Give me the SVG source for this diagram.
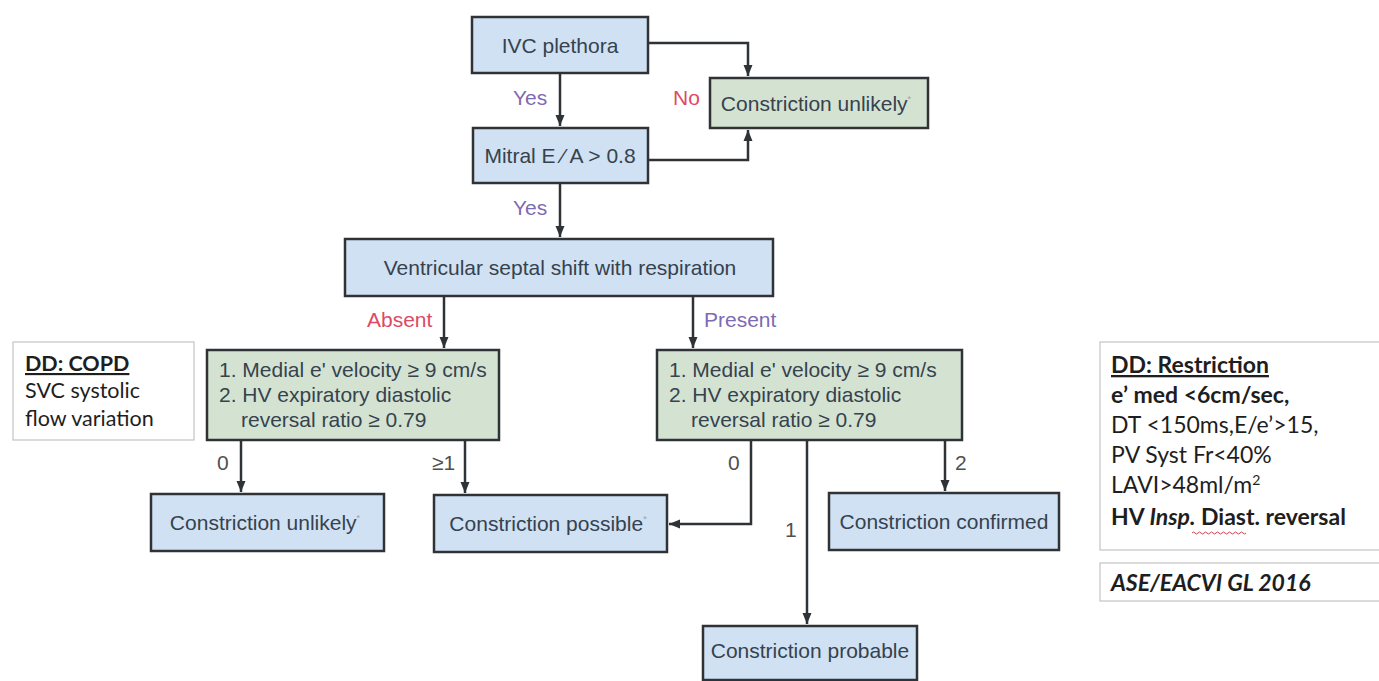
<svg xmlns="http://www.w3.org/2000/svg" width="1379" height="681" viewBox="0 0 1379 681">
<style>
.blue{fill:#cfe1f3;stroke:#2f3336;stroke-width:2.5}
.green{fill:#d4e2d2;stroke:#2f3336;stroke-width:2.5}
.note{fill:#ffffff;stroke:#c4c4c4;stroke-width:1.2}
.t{font-family:"Liberation Sans",Arial,sans-serif;font-size:21px;fill:#36424e}
.tm{text-anchor:middle}
.ast{font-size:9px;fill:#a0a0a0}
.yes{font-family:"Liberation Sans",Arial,sans-serif;font-size:21px;fill:#7d6bb3}
.no{font-family:"Liberation Sans",Arial,sans-serif;font-size:21px;fill:#dd4a66}
.num{font-family:"Liberation Sans",Arial,sans-serif;font-size:21px;fill:#505050}
.c{font-family:Lato,"Open Sans",sans-serif;font-size:23px;fill:#1e1e1e}
.cs{font-family:Lato,"Open Sans",sans-serif;font-size:21.5px;fill:#1e1e1e}
.b{font-weight:bold}
.conn{fill:none;stroke:#2f3336;stroke-width:2.5}
</style>
<defs>
<marker id="ah" markerUnits="userSpaceOnUse" markerWidth="12" markerHeight="12" viewBox="0 0 12 12" refX="11" refY="6" orient="auto">
<path d="M0,1.5 L11,6 L0,10.5 Z" fill="#2f3336"/>
</marker>
</defs>
<rect width="1379" height="681" fill="#ffffff"/>

<g id="connectors">
<path class="conn" d="M560,73 V126" marker-end="url(#ah)"/>
<path class="conn" d="M648,43 H748 V76" marker-end="url(#ah)"/>
<path class="conn" d="M648,160 H748 V130" marker-end="url(#ah)"/>
<path class="conn" d="M560,183 V237" marker-end="url(#ah)"/>
<path class="conn" d="M444,296 V348" marker-end="url(#ah)"/>
<path class="conn" d="M693,296 V348" marker-end="url(#ah)"/>
<path class="conn" d="M241,440 V492" marker-end="url(#ah)"/>
<path class="conn" d="M465,440 V493" marker-end="url(#ah)"/>
<path class="conn" d="M751,440 V524 H669" marker-end="url(#ah)"/>
<path class="conn" d="M807,440 V624" marker-end="url(#ah)"/>
<path class="conn" d="M945,440 V491" marker-end="url(#ah)"/>
<text class="yes" x="513" y="105">Yes</text>
<text class="no" x="673" y="105">No</text>
<text class="yes" x="513" y="215">Yes</text>
<text class="no" x="367" y="327">Absent</text>
<text class="yes" x="704" y="327">Present</text>
<text class="num" x="217" y="470">0</text>
<text class="num" x="432" y="470">≥1</text>
<text class="num" x="728" y="470">0</text>
<text class="num" x="785" y="537">1</text>
<text class="num" x="955" y="470">2</text>
</g>

<g id="ivc">
<rect class="blue" x="472" y="17" width="176" height="56"/>
<text class="t tm" x="560" y="52.5">IVC plethora</text>
</g>
<g id="unlikely-top">
<rect class="green" x="710" y="78" width="218" height="50"/>
<text class="t tm" x="816" y="110.5">Constriction unlikely<tspan class="ast" dy="-9">*</tspan></text>
</g>
<g id="mitral">
<rect class="blue" x="473" y="128" width="175" height="55"/>
<text class="t tm" x="560" y="163">Mitral E ⁄ A &gt; 0.8</text>
</g>
<g id="septal">
<rect class="blue" x="345" y="239" width="428" height="57"/>
<text class="t tm" x="560" y="275">Ventricular septal shift with respiration</text>
</g>
<g id="criteria-left">
<rect class="green" x="207" y="350" width="292" height="90"/>
<text class="t" x="219" y="377">1. Medial e' velocity ≥ 9 cm/s</text>
<text class="t" x="219" y="402">2. HV expiratory diastolic</text>
<text class="t" x="241" y="427">reversal ratio ≥ 0.79</text>
</g>
<g id="criteria-right">
<rect class="green" x="657" y="350" width="305" height="90"/>
<text class="t" x="669" y="377">1. Medial e' velocity ≥ 9 cm/s</text>
<text class="t" x="669" y="402">2. HV expiratory diastolic</text>
<text class="t" x="691" y="427">reversal ratio ≥ 0.79</text>
</g>
<g id="unlikely-bottom">
<rect class="blue" x="151" y="494" width="233" height="57"/>
<text class="t tm" x="265" y="530">Constriction unlikely<tspan class="ast" dy="-9">*</tspan></text>
</g>
<g id="possible">
<rect class="blue" x="434" y="495" width="233" height="57"/>
<text class="t tm" x="548" y="531">Constriction possible<tspan class="ast" dy="-9">*</tspan></text>
</g>
<g id="confirmed">
<rect class="blue" x="829" y="493" width="230" height="57"/>
<text class="t tm" x="944" y="529">Constriction confirmed</text>
</g>
<g id="probable">
<rect class="blue" x="703" y="626" width="214" height="54"/>
<text class="t tm" x="810" y="658">Constriction probable</text>
</g>

<g id="note-copd">
<rect class="note" x="13" y="342" width="181" height="98"/>
<text class="cs b" x="25" y="371" text-decoration="underline">DD: COPD</text>
<text class="cs" x="25" y="398">SVC systolic</text>
<text class="cs" x="25" y="426">flow variation</text>
</g>
<g id="note-restriction">
<rect class="note" x="1100" y="342" width="290" height="208"/>
<text class="c b" x="1111" y="373" text-decoration="underline">DD: Restriction</text>
<text class="c b" x="1111" y="403">e’ med &lt;6cm/sec,</text>
<text class="c" x="1111" y="433"> DT &lt;150ms,E/e’&gt;15,</text>
<text class="c" x="1111" y="463">PV Syst Fr&lt;40%</text>
<text class="c" x="1111" y="493">LAVI&gt;48ml/m<tspan font-size="14" dy="-8">2</tspan></text>
<text class="c b" x="1111" y="525">HV <tspan font-style="italic">Insp.</tspan> Diast. reversal</text>
<path d="M1192,533 q1.5,-2 3,0 t3,0 t3,0 t3,0 t3,0 t3,0 t3,0 t3,0 t3,0 t3,0 t3,0 t3,0 t3,0 t3,0 t3,0 t3,0 t3,0 t3,0" fill="none" stroke="#d04050" stroke-width="1"/>
</g>
<g id="note-guideline">
<rect class="note" x="1100" y="563" width="290" height="38"/>
<text class="c b" x="1111" y="591" font-style="italic">ASE/EACVI GL 2016</text>
</g>
</svg>
